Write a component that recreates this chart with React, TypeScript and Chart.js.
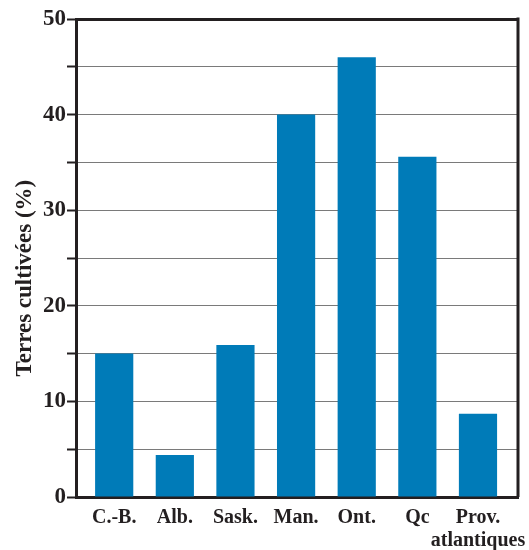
import React, { useEffect, useRef } from "react";
import { Chart, registerables } from "chart.js";

Chart.register(...registerables);

const CATEGORIES: string[][] = [["C.-B."], ["Alb."], ["Sask."], ["Man."], ["Ont."], ["Qc"], ["Prov.", "atlantiques"]];
const VALUES: number[] = [15, 4.4, 15.9, 40, 46, 35.6, 8.7];
const Y_TITLE = "Terres cultivées (%)";
const Y_MIN = 0;
const Y_MAX = 50;
const Y_STEP = 5;
const Y_LABEL_STEP = 10;

const DARK = "#231f20";
const BAR = "#007bb8";
const FONT = "'Liberation Serif', 'Times New Roman', serif";

const frame = {
  id: "frame",
  afterDraw(chart: any) {
    const { ctx, chartArea } = chart;
    ctx.save();
    ctx.strokeStyle = DARK;
    ctx.lineWidth = 3;
    ctx.beginPath();
    ctx.moveTo(chartArea.right, chartArea.top - 1.5);
    ctx.lineTo(chartArea.right, chartArea.bottom);
    ctx.stroke();
    ctx.restore();
  },
};

export default function App() {
  const ref = useRef<HTMLCanvasElement | null>(null);
  useEffect(() => {
    if (!ref.current) return;
    const chart = new Chart(ref.current, {
      type: "bar",
      data: {
        datasets: [
          {
            data: VALUES.map((v, i) => ({ x: i, y: v })),
            backgroundColor: BAR,
            borderWidth: 0,
            barPercentage: 0.63,
            categoryPercentage: 1,
          },
        ],
      },
      options: {
        responsive: false,
        animation: false,
        layout: { padding: { top: 19, right: 11, left: 0, bottom: 0 } },
        plugins: { legend: { display: false }, tooltip: { enabled: false } },
        scales: {
          x: {
            type: "linear",
            offset: false,
            min: -0.63,
            max: CATEGORIES.length - 1 + 0.66,
            grid: { display: false, drawTicks: false, offset: false },
            border: { display: true, color: DARK, width: 3 },
            afterBuildTicks: (scale: any) => {
              scale.ticks = CATEGORIES.map((_, i) => ({ value: i }));
            },
            afterFit: (scale: any) => {
              scale.height = 53;
              scale.paddingLeft = 0;
              scale.paddingRight = 0;
            },
            ticks: {
              autoSkip: false,
              maxRotation: 0,
              minRotation: 0,
              padding: 9,
              color: DARK,
              font: { family: FONT, weight: "bold", size: 20, lineHeight: 1.15 },
              callback: (value: any) => {
                const c = CATEGORIES[Math.round(Number(value))];
                return c ? (c.length > 1 ? c : c[0]) : "";
              },
            },
          },
          y: {
            min: Y_MIN,
            max: Y_MAX,
            afterFit: (scale: any) => {
              scale.width = 76;
              scale.paddingTop = 0;
              scale.paddingBottom = 0;
            },
            border: { display: true, color: DARK, width: 3 },
            grid: {
              color: (c: any) => (c.tick && c.tick.value === Y_MAX ? DARK : "#7a7a7a"),
              lineWidth: (c: any) => (c.tick && c.tick.value === Y_MAX ? 3 : 1),
              tickColor: DARK,
              tickWidth: 2,
              tickLength: 9,
              drawTicks: true,
            },
            ticks: {
              stepSize: Y_STEP,
              padding: 1,
              color: DARK,
              font: { family: FONT, weight: "bold", size: 23 },
              callback: (value: any) => (Number(value) % Y_LABEL_STEP === 0 ? String(value) : ""),
            },
            title: {
              display: true,
              text: Y_TITLE + "\u00a0\u00a0\u00a0\u00a0\u00a0\u00a0\u00a0",
              color: DARK,
              padding: { top: 11, bottom: 0 },
              font: { family: FONT, weight: "bold", size: 23 },
            },
          },
        },
      },
      plugins: [frame],
    } as any);
    return () => chart.destroy();
  }, []);
  return (
    <div style={{ position: "fixed", left: 0, top: 0, width: 529, height: 550, background: "#fff" }}>
      <canvas ref={ref} width={529} height={550} style={{ display: "block" }} />
    </div>
  );
}
